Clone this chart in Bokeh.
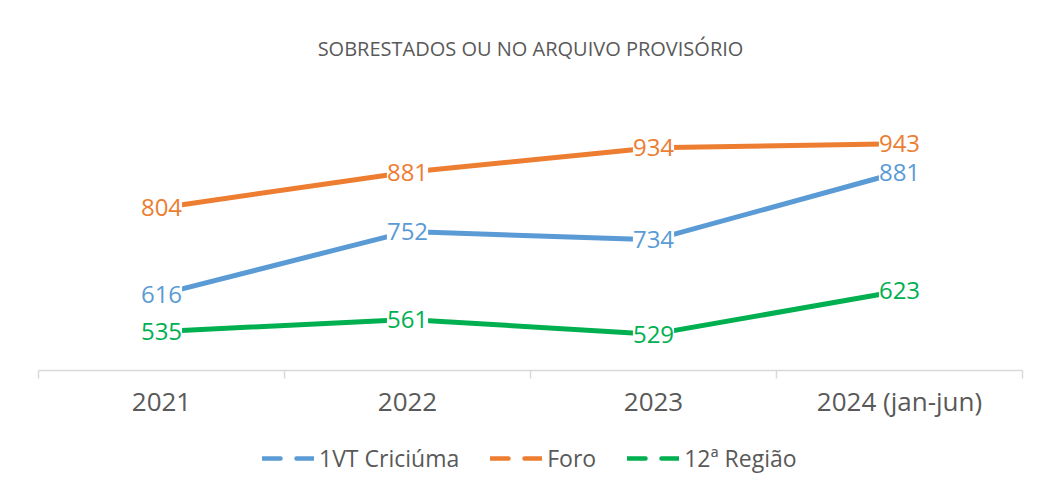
from bokeh.plotting import figure
from bokeh.layouts import column
from bokeh.models import (FixedTicker, Legend, LegendItem, LabelSet, ColumnDataSource,
                          Range1d, Label)
from bokeh.core.properties import value
from bokeh.embed import file_html
from bokeh.resources import INLINE

categories = ["2021", "2022", "2023", "2024 (jan-jun)"]
criciuma = [616, 752, 734, 881]
foro = [804, 881, 934, 943]
regiao = [535, 561, 529, 623]
series_names = ["1VT Criciúma", "Foro", "12ª Região"]
series_values = [criciuma, foro, regiao]
colors = ["#5B9BD5", "#ED7D31", "#00B050"]
title_text = "SOBRESTADOS OU NO ARQUIVO PROVISÓRIO"

FONT = "Open Sans"
TXT = "#595959"

xs = [i + 0.5 for i in range(len(categories))]
ncat = len(categories)


def bare(f):
    f.outline_line_color = None
    f.grid.visible = False
    f.border_fill_color = "white"
    f.background_fill_color = "white"


# title strip
title_fig = figure(width=1041, height=70, output_backend="svg", toolbar_location=None,
                   x_range=Range1d(0, ncat), y_range=Range1d(0, 1),
                   min_border_left=38, min_border_right=19, min_border_top=0,
                   min_border_bottom=0, x_axis_location=None, y_axis_location=None)
bare(title_fig)
title_fig.add_layout(Label(x=ncat / 2, y=22, y_units="screen", text=title_text,
                           text_align="center", text_baseline="middle",
                           text_font=FONT, text_font_size="20px", text_color=TXT))

# main chart
fig = figure(width=1041, height=363, output_backend="svg", toolbar_location=None,
             x_range=Range1d(0, ncat), y_range=Range1d(450, 1000),
             min_border_left=38, min_border_right=19, min_border_top=47,
             min_border_bottom=63)
bare(fig)
fig.yaxis.visible = False

ax = fig.xaxis[0]
ax.ticker = FixedTicker(ticks=xs, minor_ticks=list(range(ncat + 1)))
ax.major_label_overrides = {x: c for x, c in zip(xs, categories)}
ax.major_tick_line_color = None
ax.minor_tick_line_color = "#D9D9D9"
ax.minor_tick_line_width = 1.5
ax.minor_tick_in = 0
ax.minor_tick_out = 8
ax.axis_line_color = "#D9D9D9"
ax.axis_line_width = 1.5
ax.major_label_text_font = FONT
ax.major_label_text_font_size = "26px"
ax.major_label_text_color = TXT
ax.major_label_standoff = 4

# legend strip: same series drawn dashed, kept outside its visible y range
leg_fig = figure(width=1041, height=60, output_backend="svg", toolbar_location=None,
                 x_range=Range1d(0, ncat), y_range=Range1d(0, 1),
                 min_border=0, x_axis_location=None, y_axis_location=None)
bare(leg_fig)

items = []
for name, vals, col in zip(series_names, series_values, colors):
    src = ColumnDataSource(dict(x=xs, y=vals, lab=[str(v) for v in vals]))
    fig.line("x", "y", source=src, line_color=col, line_width=5)
    dummy = leg_fig.line("x", "y", source=src, line_color=col, line_width=4.5,
                         line_dash="18 16", line_cap="round")
    items.append(LegendItem(label=name, renderers=[dummy]))
    labels = LabelSet(x="x", y="y", text="lab", source=src, text_align="center",
                      text_baseline="middle", text_font=value(FONT),
                      text_font_size="24px", text_color=col,
                      background_fill_color="white", y_offset=0)
    fig.add_layout(labels)

legend = Legend(items=items, orientation="horizontal", location=(224, 19),
                label_text_font=FONT, label_text_font_size="23px",
                label_text_color=TXT, glyph_width=52, glyph_height=20,
                label_standoff=5, spacing=31, border_line_color=None,
                background_fill_alpha=0, padding=0, margin=0)
leg_fig.add_layout(legend, "center")

p = column(title_fig, fig, leg_fig, spacing=0)
open("out.html", "w").write(file_html(p, INLINE))
